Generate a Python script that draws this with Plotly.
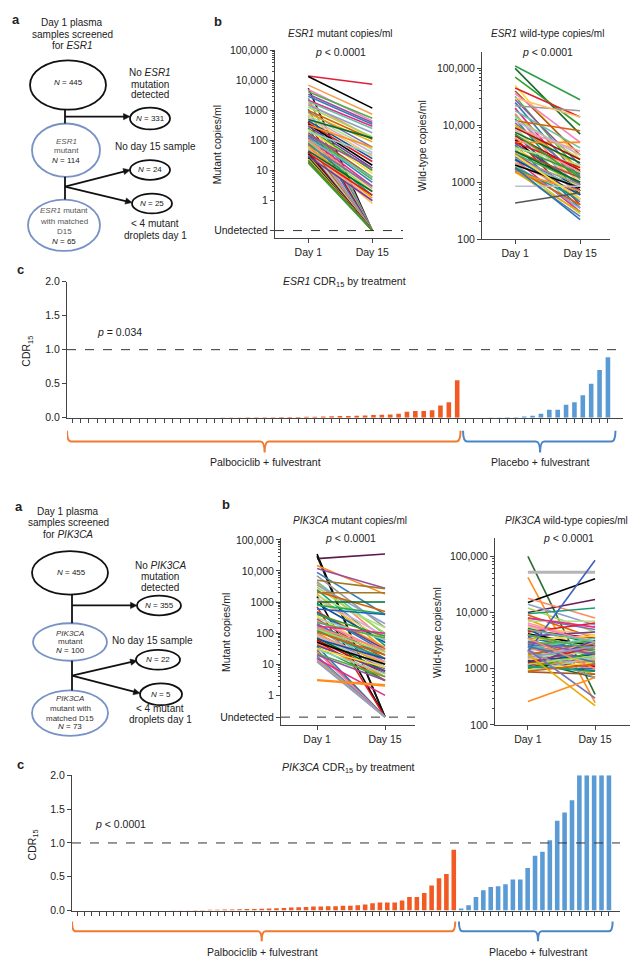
import math
import plotly.graph_objects as go

W, H = 633, 965
FONT = "Liberation Sans, Arial, sans-serif"
TXT = "#222222"
AX = "#444444"


def px(x):
    return x / W


def py(y):
    return 1 - y / H


# ---------------- DATA ----------------
# 0 = undetected
esr1_mut_d1 = [14000, 13500, 7000, 5500, 5000, 4200, 3500, 3000, 2600, 2200,
               2000, 1700, 1500, 1300, 1100, 1000, 900, 800, 700, 650,
               600, 550, 500, 450, 420, 380, 350, 320, 300, 270,
               250, 230, 200, 180, 170, 160, 150, 140, 130, 120,
               110, 100, 90, 85, 80, 75, 70, 65, 60, 55,
               50, 48, 45, 42, 40, 38, 35, 32, 30, 28,
               26, 24, 22, 20, 18]
esr1_mut_d15 = [7500, 1200, 750, 0, 450, 550, 400, 350, 0, 300,
                250, 120, 180, 130, 0, 110, 60, 90, 50, 0,
                40, 30, 120, 25, 0, 20, 15, 60, 12, 0,
                10, 8, 35, 6, 0, 5, 12, 4, 0, 3,
                6, 2.5, 0, 2, 1.5, 0, 3, 1.2, 0, 1,
                0, 0.8, 2, 0, 0, 1.5, 0, 0, 1, 0,
                0, 0, 0, 0, 0]

esr1_wt_d1 = [110000, 100000, 70000, 50000, 45000, 40000, 36000, 32000, 28000, 25000,
              22000, 20000, 18000, 16000, 15000, 14000, 13000, 12000, 11000, 10000,
              9500, 9000, 8500, 8000, 7500, 7000, 6500, 6000, 5500, 5000,
              4800, 4500, 4200, 4000, 3800, 3500, 3300, 3100, 3000, 2800,
              2600, 2500, 2400, 2200, 2000, 1900, 1800, 1700, 1600, 1500,
              4000, 6000, 12000, 30000, 3500, 2500, 9000, 5000, 2000, 1500,
              850, 1800, 7000, 3000, 430]
esr1_wt_d15 = [28000, 7000, 10000, 2500, 14000, 3000, 5000, 1500, 2000, 1200,
               18000, 900, 4000, 700, 1100, 2500, 600, 8000, 1300, 1800,
               500, 3500, 800, 1000, 2200, 600, 1600, 400, 700, 5000,
               900, 350, 1400, 800, 300, 1200, 500, 1000, 700, 450,
               900, 300, 800, 600, 350, 280, 500, 400, 250, 300,
               2000, 1500, 3000, 14000, 1000, 600, 2500, 1800, 800, 700,
               850, 220, 1200, 500, 650]

pik_mut_d1 = [35000, 25000, 30000, 15000, 12000, 9000, 7000, 5000, 4500, 4000,
              3500, 3000, 2500, 2200, 2000, 1800, 1600, 1500, 1300, 1200,
              1000, 900, 800, 700, 600, 500, 480, 450, 400, 350,
              300, 280, 250, 220, 200, 190, 180, 170, 160, 150,
              140, 130, 120, 110, 100, 95, 90, 85, 80, 75,
              70, 65, 60, 55, 50, 45, 40, 38, 35, 32,
              30, 28, 25, 22, 20, 18, 16, 15, 14, 13,
              12, 3, 3.2]
pik_mut_d15 = [0, 35000, 0, 1800, 2800, 400, 150, 2700, 90, 60,
               200, 100, 40, 500, 2000, 30, 150, 0, 80, 60,
               1000, 50, 420, 0, 400, 35, 30, 25, 80, 20,
               60, 15, 25, 70, 12, 20, 10, 100, 8, 30,
               6, 25, 15, 20, 7, 10, 5, 12, 8, 4,
               6, 15, 5, 3, 10, 4, 6, 0, 3, 8,
               5, 0, 0, 4, 3, 0, 0, 1, 0, 0,
               0, 2, 2.2]

pik_wt_d1 = [100000, 52000, 42000, 15000, 10000, 18000, 14000, 12000, 9500, 9000,
             8000, 7500, 7000, 6500, 6000, 5500, 5200, 5000, 4800, 4500,
             4200, 4000, 3800, 3600, 3500, 3300, 3200, 3000, 2900, 2800,
             2700, 2600, 2500, 2400, 2300, 2200, 2100, 2000, 1900, 1800,
             1700, 1650, 1600, 1550, 1500, 1450, 1400, 1350, 1300, 1250,
             1200, 1150, 1100, 1050, 1000, 950, 900, 880, 6000, 4000,
             3000, 2500, 2000, 8000, 5000, 3500, 1600, 1200, 1100, 900,
             2200, 1800, 260]
pik_wt_d15 = [350, 52000, 250, 40000, 17000, 8000, 6000, 4500, 12000, 3500,
              5000, 2500, 7000, 3000, 2000, 4000, 2800, 1500, 3500, 6500,
              2500, 1800, 4500, 2000, 1200, 3800, 1600, 2200, 1000, 3000,
              1400, 2500, 1800, 1100, 3500, 2000, 900, 85000, 1500, 2800,
              1200, 800, 2000, 1000, 3000, 1500, 700, 1800, 1100, 2500,
              900, 1400, 3200, 1000, 2000, 1300, 1600, 800, 3000, 2200,
              1800, 1300, 700, 5500, 3000, 1000, 2500, 1700, 900, 1200,
              300, 220, 700]

esr1_cdr_palbo = [0, 0, 0, 0, 0, 0, 0, 0, 0, 0, 0, 0, 0, 0, 0, 0, 0, 0,
                  0.004, 0.005, 0.006, 0.007, 0.008, 0.009, 0.01, 0.011, 0.012, 0.013,
                  0.015, 0.017, 0.02, 0.022, 0.025, 0.028, 0.03, 0.035, 0.04, 0.045,
                  0.05, 0.06, 0.09, 0.10, 0.10, 0.11, 0.18, 0.23, 0.55]
esr1_cdr_placebo = [0, 0, 0, 0.003, 0.005, 0.008, 0.01, 0.02, 0.03, 0.06,
                    0.12, 0.12, 0.19, 0.23, 0.33, 0.50, 0.70, 0.89]

pik_cdr_palbo = [0, 0, 0, 0, 0, 0, 0, 0, 0, 0, 0, 0, 0,
                 0.004, 0.005, 0.006, 0.008, 0.01, 0.012, 0.014, 0.016, 0.018, 0.02,
                 0.022, 0.025, 0.028, 0.03, 0.035, 0.04, 0.045, 0.05, 0.055,
                 0.06, 0.06, 0.065, 0.065, 0.07, 0.07, 0.08, 0.09, 0.11, 0.12,
                 0.12, 0.12, 0.15, 0.20, 0.20, 0.26, 0.37, 0.48, 0.54, 0.90]
pik_cdr_placebo = [0.03, 0.08, 0.2, 0.3, 0.35, 0.36, 0.39, 0.46, 0.46, 0.63,
                   0.81, 0.87, 1.04, 1.33, 1.45, 1.63, 2.0, 2.0, 2.0, 2.0, 2.0]

mut_tickvals_top = [0.1, 1, 10, 100, 1000, 10000, 100000]
mut_tickvals_bot = [0.2, 1, 10, 100, 1000, 10000, 100000]
mut_ticktext = ["Undetected", "1", "10", "100", "1000", "10,000", "100,000"]
wt_tickvals = [100, 1000, 10000, 100000]
wt_ticktext = ["100", "1000", "10,000", "100,000"]
day_labels = ["Day 1", "Day 15"]
cdr_ticks = [0, 0.5, 1.0, 1.5, 2.0]
cdr_ticktext = ["0.0", "0.5", "1.0", "1.5", "2.0"]

PALETTE = ["#E41A1C", "#000000", "#FF8C1A", "#6A3D9A", "#1F78B4", "#33A02C", "#FFD92F",
           "#8DD3C7", "#A65628", "#F781BF", "#4DAF4A", "#984EA3", "#377EB8", "#999999",
           "#E7298A", "#66C2A5", "#FC8D62", "#8DA0CB", "#A6D854", "#1B9E77", "#D95F02",
           "#7570B3", "#E6AB02", "#B2DF8A", "#FB9A99", "#CAB2D6", "#FDBF6F", "#006D2C",
           "#08519C", "#A50F15"]

ORANGE_BAR = "#F15A22"
BLUE_BAR = "#5B9BD5"
ORANGE_BR = "#F07A32"
BLUE_BR = "#4A86C5"

fig = go.Figure()


def line_colors(n, offset, overrides):
    cols = [PALETTE[(i + offset) % len(PALETTE)] for i in range(n)]
    for k, v in overrides.items():
        cols[k] = v
    return cols


def add_slopes(d1, d15, cols, xa, ya, undet, widths=None):
    for i, (a, b) in enumerate(zip(d1, d15)):
        ya_v = a if a > 0 else undet
        yb_v = b if b > 0 else undet
        w = 1.6 if widths is None or i not in widths else widths[i]
        fig.add_trace(go.Scatter(x=[0, 1], y=[ya_v, yb_v], mode="lines",
                                 line=dict(color=cols[i], width=w),
                                 xaxis=xa, yaxis=ya, showlegend=False, hoverinfo="skip"))


add_slopes(esr1_mut_d1, esr1_mut_d15,
           line_colors(len(esr1_mut_d1), 5, {0: "#E0203A", 1: "#000000", 2: "#F4A050", 3: "#111111",
                                              60: "#000000", 62: "#2CA02C", 64: "#33A02C"}),
           "x", "y", 0.1)
add_slopes(esr1_wt_d1, esr1_wt_d15,
           line_colors(len(esr1_wt_d1), 3, {0: "#2E9E4A", 1: "#1E6B30", 4: "#E0202A", 64: "#555555",
                                             60: "#BBBBDD"}),
           "x2", "y2", 100)
add_slopes(pik_mut_d1, pik_mut_d15,
           line_colors(len(pik_mut_d1), 7, {0: "#000000", 1: "#5B1A4A", 2: "#111111", 3: "#FF8C1A",
                                            7: "#A0782A", 14: "#A0782A", 22: "#1DB34A", 24: "#1F5FBF",
                                            71: "#FF8C1A", 72: "#FF8C1A", 17: "#000000"}),
           "x4", "y4", 0.2)
add_slopes(pik_wt_d1, pik_wt_d15,
           line_colors(len(pik_wt_d1), 11, {0: "#2E6B30", 1: "#B5B5B5", 2: "#FF8C1A", 3: "#000000",
                                            4: "#6A1B5A", 37: "#4060C0", 72: "#FF8C1A"}),
           "x5", "y5", 100, widths={1: 3})

# Bars
n_e = len(esr1_cdr_palbo) + len(esr1_cdr_placebo)
fig.add_trace(go.Bar(x=list(range(len(esr1_cdr_palbo))), y=esr1_cdr_palbo, width=0.55,
                     marker=dict(color=ORANGE_BAR, line=dict(width=0)), xaxis="x3", yaxis="y3",
                     showlegend=False, hoverinfo="skip"))
fig.add_trace(go.Bar(x=list(range(len(esr1_cdr_palbo), n_e)), y=esr1_cdr_placebo, width=0.55,
                     marker=dict(color=BLUE_BAR, line=dict(width=0)), xaxis="x3", yaxis="y3",
                     showlegend=False, hoverinfo="skip"))
n_p = len(pik_cdr_palbo) + len(pik_cdr_placebo)
fig.add_trace(go.Bar(x=list(range(len(pik_cdr_palbo))), y=pik_cdr_palbo, width=0.62,
                     marker=dict(color=ORANGE_BAR, line=dict(width=0)), xaxis="x6", yaxis="y6",
                     showlegend=False, hoverinfo="skip"))
fig.add_trace(go.Bar(x=list(range(len(pik_cdr_palbo), n_p)), y=pik_cdr_placebo, width=0.62,
                     marker=dict(color=BLUE_BAR, line=dict(width=0)), xaxis="x6", yaxis="y6",
                     showlegend=False, hoverinfo="skip"))

tickfont = dict(family=FONT, size=10.5, color=TXT)


def minor_vals(lo, hi):
    vals = []
    d = 10.0 ** lo
    while d < 10 ** hi:
        for m in range(2, 10):
            vals.append(m * d)
        d *= 10
    return vals


def slope_axes(xk, yk, xd, yd, xr, yr, tv, tt, mlo):
    fig.layout[xk] = dict(domain=[px(xd[0]), px(xd[1])], range=xr, anchor=yk.replace("axis", ""),
                          tickvals=[0, 1], ticktext=day_labels, ticks="outside", ticklen=4,
                          tickcolor=AX, showline=True, linecolor=AX, linewidth=1, showgrid=False,
                          zeroline=False, tickfont=tickfont, fixedrange=True)
    fig.layout[yk] = dict(domain=[py(yd[0]), py(yd[1])], type="log", range=yr,
                          anchor=xk.replace("axis", ""), tickvals=tv, ticktext=tt, ticks="outside",
                          ticklen=4, tickcolor=AX, showline=True, linecolor=AX, linewidth=1,
                          showgrid=False, zeroline=False, tickfont=tickfont,
                          minor=dict(ticks="outside", ticklen=2, tickcolor=AX,
                                     tickvals=minor_vals(mlo, 5)))


slope_axes("xaxis", "yaxis", (275, 403), (235, 45), [-0.52, 1.48], [-1.25, 5.0],
           mut_tickvals_top, mut_ticktext, 0)
slope_axes("xaxis2", "yaxis2", (482, 610), (236, 47), [-0.51, 1.46], [2, 5.28],
           wt_tickvals, wt_ticktext, 2)
slope_axes("xaxis4", "yaxis4", (281, 415), (728, 539), [-0.53, 1.44], [-0.95, 5.05],
           mut_tickvals_bot, mut_ticktext, 0)
slope_axes("xaxis5", "yaxis5", (495, 630), (728, 539), [-0.49, 1.52], [2, 5.32],
           wt_tickvals, wt_ticktext, 2)


def bar_axes(xk, yk, xd, yd, xr, n):
    fig.layout[xk] = dict(domain=[px(xd[0]), px(xd[1])], range=xr, anchor=yk.replace("axis", ""),
                          tickvals=list(range(n)), showticklabels=False, ticks="outside", ticklen=4,
                          tickcolor=AX, showline=True, linecolor=AX, linewidth=1, showgrid=False,
                          zeroline=False)
    fig.layout[yk] = dict(domain=[py(yd[0]), py(yd[1])], range=[0, 2.0],
                          anchor=xk.replace("axis", ""), tickvals=cdr_ticks, ticktext=cdr_ticktext,
                          ticks="outside", ticklen=4, tickcolor=AX, showline=True, linecolor=AX,
                          linewidth=1, showgrid=False, zeroline=False, tickfont=tickfont)


bar_axes("xaxis3", "yaxis3", (67, 623), (417, 279), [-0.6, 65.8], n_e)
bar_axes("xaxis6", "yaxis6", (72, 620), (916, 779), [-0.68, 73.5], n_p)

shapes = []
# dashed reference lines
shapes.append(dict(type="line", xref="x domain", x0=0, x1=1, yref="y", y0=0.1, y1=0.1,
                   line=dict(color="#333", width=1, dash="dash")))
shapes.append(dict(type="line", xref="x4 domain", x0=0, x1=1, yref="y4", y0=0.2, y1=0.2,
                   line=dict(color="#333", width=1, dash="dash")))
shapes.append(dict(type="line", xref="x3 domain", x0=0, x1=1, yref="y3", y0=1, y1=1,
                   line=dict(color="#333", width=1, dash="dash")))
shapes.append(dict(type="line", xref="x6 domain", x0=0, x1=1, yref="y6", y0=1, y1=1,
                   line=dict(color="#333", width=1, dash="dash")))


def brace(xref, x0, x1, xm, ytop, ymid, ybot, color, r=0.5):
    yt, ym, yb = py(ytop), py(ymid), py(ybot)
    path = (f"M {x0},{yt} Q {x0},{ym} {x0 + r},{ym} L {xm - r},{ym} "
            f"Q {xm},{ym} {xm},{yb} Q {xm},{ym} {xm + r},{ym} L {x1 - r},{ym} Q {x1},{ym} {x1},{yt}")
    return dict(type="path", xref=xref, yref="paper", path=path,
                line=dict(color=color, width=2))


shapes.append(brace("x3", -0.6, 46.4, 23.0, 430, 441, 452, ORANGE_BR))
shapes.append(brace("x3", 46.7, 64.9, 55.9, 430, 441, 452, BLUE_BR))
shapes.append(brace("x6", -0.68, 51.2, 25.0, 927, 937, 947, ORANGE_BR))
shapes.append(brace("x6", 51.7, 72.5, 62.4, 927, 937, 947, BLUE_BR))


def ellipse(cx, cy, rx, ry, color, w=1.8):
    return dict(type="circle", xref="paper", yref="paper", x0=px(cx - rx), x1=px(cx + rx),
                y0=py(cy + ry), y1=py(cy - ry), line=dict(color=color, width=w))


def seg(x0, y0, x1, y1, w=1.8):
    return dict(type="line", xref="paper", yref="paper", x0=px(x0), x1=px(x1), y0=py(y0), y1=py(y1),
                line=dict(color="#111", width=w))


def arrow(x0, y0, x1, y1):
    dx, dy = x1 - x0, y1 - y0
    L = math.hypot(dx, dy)
    ux, uy = dx / L, dy / L
    hl, hw = 6.5, 3.2
    bx, by = x1 - ux * hl, y1 - uy * hl
    p1 = (bx - uy * hw, by + ux * hw)
    p2 = (bx + uy * hw, by - ux * hw)
    out = [seg(x0, y0, bx + ux * 1, by + uy * 1)]
    path = (f"M {px(x1)},{py(y1)} L {px(p1[0])},{py(p1[1])} "
            f"L {px(p2[0])},{py(p2[1])} Z")
    out.append(dict(type="path", xref="paper", yref="paper", path=path,
                    fillcolor="#111", line=dict(color="#111", width=0.5)))
    return out


BLK = "#111111"
BLU = "#7892C6"
# top flow
shapes += [ellipse(68, 80, 38, 25, BLK), ellipse(150, 114, 20, 11, BLK),
           ellipse(66, 146, 34, 27, BLU), ellipse(150, 166, 20, 10, BLK),
           ellipse(152, 200, 20, 10, BLK), ellipse(64, 222, 36, 26, BLU),
           seg(65, 105, 65, 119), seg(65, 173, 65, 196)]
shapes += arrow(65, 112, 130, 112)
shapes += arrow(65, 183, 130, 166)
shapes += arrow(65, 183, 132, 199)
# bottom flow
shapes += [ellipse(70, 574, 38, 22, BLK), ellipse(159, 607, 22, 10, BLK),
           ellipse(70, 644, 37, 19, BLU), ellipse(158, 662, 22, 10, BLK),
           ellipse(161, 697, 21, 11, BLK), ellipse(70, 716, 38, 23, BLU),
           seg(72, 596, 72, 625), seg(72, 663, 72, 693)]
shapes += arrow(72, 607, 137, 607)
shapes += arrow(72, 678, 137, 663)
shapes += arrow(72, 678, 140, 696)

fig.update_layout(shapes=shapes)

ann = []


def T(x, y, text, size=10.5, anchor="center", color=TXT, angle=0, bold=False):
    ann.append(dict(x=px(x), y=py(y), xref="paper", yref="paper", text=f"<b>{text}</b>" if bold else text,
                    showarrow=False, xanchor=anchor, yanchor="middle", textangle=angle,
                    font=dict(family=FONT, size=size, color=color)))


# panel letters
T(16, 14, "a", 13, bold=True)
T(218, 16, "b", 13, bold=True)
T(20, 267, "c", 13, bold=True)
T(19, 507, "a", 13, bold=True)
T(226, 505, "b", 13, bold=True)
T(20, 768, "c", 13, bold=True)

# top flow texts
T(72, 17, "Day 1 plasma", 10)
T(72, 29, "samples screened", 10)
T(72, 40, "for <i>ESR1</i>", 10)
T(68, 77, "<i>N</i> = 445", 8)
T(150, 67, "No <i>ESR1</i>", 10)
T(150, 79, "mutation", 10)
T(150, 90, "detected", 10)
T(150, 114, "<i>N</i> = 331", 8)
T(66, 137, "<i>ESR1</i>", 8, color="#555")
T(66, 146, "mutant", 8, color="#555")
T(66, 156, "<i>N</i> = 114", 8)
T(155, 142, "No day 15 sample", 10)
T(150, 166, "<i>N</i> = 24", 8)
T(152, 200, "<i>N</i> = 25", 8)
T(64, 207, "<i>ESR1</i> mutant", 8, color="#555")
T(64, 218, "with matched", 8, color="#555")
T(64, 228, "D15", 8, color="#555")
T(64, 238, "<i>N</i> = 65", 8)
T(155, 220, "&lt; 4 mutant", 10)
T(155, 232, "droplets day 1", 10)

# bottom flow texts
T(68, 512, "Day 1 plasma", 10)
T(68, 523, "samples screened", 10)
T(68, 535, "for <i>PIK3CA</i>", 10)
T(71, 574, "<i>N</i> = 455", 8)
T(160, 567, "No <i>PIK3CA</i>", 10)
T(160, 578, "mutation", 10)
T(160, 589, "detected", 10)
T(159, 607, "<i>N</i> = 355", 8)
T(70, 635, "<i>PIK3CA</i>", 8, color="#333")
T(70, 644, "mutant", 8, color="#333")
T(70, 653, "<i>N</i> = 100", 8)
T(152, 642, "No day 15 sample", 10)
T(158, 662, "<i>N</i> = 22", 8)
T(161, 697, "<i>N</i> = 5", 8)
T(70, 701, "<i>PIK3CA</i>", 8, color="#333")
T(70, 711, "mutant with", 8, color="#333")
T(70, 721, "matched D15", 8, color="#333")
T(70, 730, "<i>N</i> = 73", 8)
T(160, 711, "&lt; 4 mutant", 10)
T(160, 722, "droplets day 1", 10)

# slope titles
T(340, 28, "<i>ESR1</i> mutant copies/ml", 10)
T(340, 47, "<i>p</i> &lt; 0.0001", 10.5)
T(547, 28, "<i>ESR1</i> wild-type copies/ml", 10)
T(547, 47, "<i>p</i> &lt; 0.0001", 10.5)
T(350, 521, "<i>PIK3CA</i> mutant copies/ml", 10)
T(350, 539, "<i>p</i> &lt; 0.0001", 10.5)
T(630, 521, "<i>PIK3CA</i> wild-type copies/ml", 10, anchor="right")
T(568, 539, "<i>p</i> &lt; 0.0001", 10.5)
T(217, 141, "Mutant copies/ml", 10.5, angle=-90)
T(422, 142, "Wild-type copies/ml", 10.5, angle=-90)
T(226, 635, "Mutant copies/ml", 10.5, angle=-90)
T(437, 635, "Wild-type copies/ml", 10.5, angle=-90)

# CDR panels
T(344, 279, "<i>ESR1</i> CDR<sub>15</sub> by treatment", 10.5)
T(27, 350, "CDR<sub>15</sub>", 10.5, angle=-90)
T(95, 330, "<i>p</i> = 0.034", 10.5, anchor="left")
T(265, 462, "Palbociclib + fulvestrant", 10.5)
T(540, 462, "Placebo + fulvestrant", 10.5)
T(348, 772, "<i>PIK3CA</i> CDR<sub>15</sub> by treatment", 10.5)
T(33, 850, "CDR<sub>15</sub>", 10.5, angle=-90)
T(93, 828, "<i>p</i> &lt; 0.0001", 10.5, anchor="left")
T(262, 958, "Palbociclib + fulvestrant", 10.5)
T(538, 958, "Placebo + fulvestrant", 10.5)

fig.update_layout(annotations=ann, width=W, height=H, autosize=False,
                  margin=dict(l=0, r=0, t=0, b=0), paper_bgcolor="white", plot_bgcolor="white",
                  showlegend=False, barmode="overlay", font=dict(family=FONT, color=TXT))

fig.write_html("out.html", config={"displayModeBar": False, "staticPlot": True},
               post_script="document.body.style.margin='0px';")
